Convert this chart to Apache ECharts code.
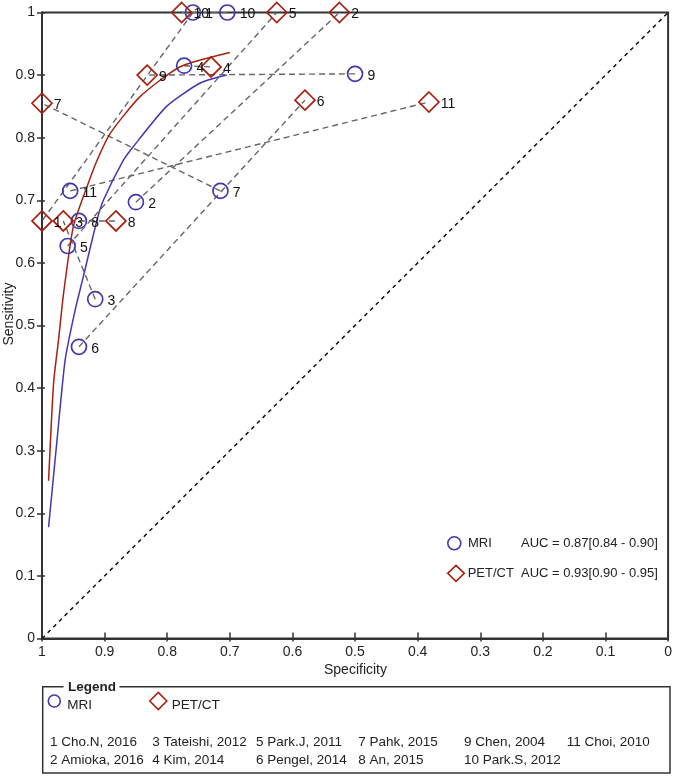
<!DOCTYPE html>
<html><head><meta charset="utf-8">
<script src="https://cdn.jsdelivr.net/npm/echarts@6/dist/echarts.min.js"></script>
<style>html,body{margin:0;padding:0;background:#fff}#c{width:675px;height:776px}</style>
</head><body><div id="c"></div>
<script>
// ---------- data ----------
const studyIds = [1,2,3,4,5,6,7,8,9,10,11];
const studyNames = ['Cho.N, 2016','Amioka, 2016','Tateishi, 2012','Kim, 2014','Park.J, 2011','Pengel, 2014','Pahk, 2015','An, 2015','Chen, 2004','Park.S, 2012','Choi, 2010'];
const mriSpec = [0.759,0.850,0.915,0.773,0.959,0.941,0.715,0.941,0.500,0.704,0.955];
const mriSens = [1.000,0.697,0.542,0.915,0.627,0.466,0.715,0.667,0.902,1.000,0.715];
const petSpec = [1.000,0.525,0.966,0.730,0.625,0.580,1.000,0.882,0.832,0.777,0.382];
const petSens = [0.667,1.000,0.667,0.913,1.000,0.860,0.855,0.667,0.900,1.000,0.857];
const mriCurveSpec = [0.9895,0.976,0.963,0.947,0.934,0.912,0.902,0.870,0.854,0.801,0.748,0.705];
const mriCurveSens = [0.178,0.317,0.445,0.525,0.578,0.669,0.700,0.764,0.786,0.850,0.887,0.900];
const petCurveSpec = [0.9895,0.9815,0.9736,0.9656,0.950,0.928,0.912,0.891,0.843,0.780,0.700];
const petCurveSens = [0.252,0.408,0.477,0.551,0.658,0.722,0.764,0.807,0.866,0.913,0.936];
const chanceSpec = [1,0];
const chanceSens = [0,1];
const seriesNames = ['MRI','PET/CT'];
const aucLabels = ['AUC = 0.87[0.84 - 0.90]','AUC = 0.93[0.90 - 0.95]'];
const xTitle = 'Specificity';
const yTitle = 'Sensitivity';

// ---------- style ----------
const FONT = '"Liberation Sans", Arial, Helvetica, sans-serif';
const BLUE = '#4438ad';
const RED = '#a8200f';
const AX = '#333';

const chart = echarts.init(document.getElementById('c'), null, {renderer:'canvas'});

function zip(a, b, ids) { return a.map((v,i) => ids ? [v, b[i], ids[i]] : [v, b[i]]); }

const baseAxis = {type:'value', min:0, max:1, interval:0.1, splitLine:{show:false}};
const xAxes = [
  Object.assign({}, baseAxis, {position:'bottom', inverse:true,
    axisLine:{show:true, onZero:false, lineStyle:{color:AX, width:2}},
    axisTick:{show:true, inside:true, length:6, lineStyle:{color:AX, width:1.5}},
    axisLabel:{margin:7, fontSize:14, color:'#222', fontFamily:FONT}}),
  Object.assign({}, baseAxis, {position:'bottom', inverse:true,
    axisLine:{show:false, onZero:false}, axisTick:{show:true, inside:false, length:3, lineStyle:{color:AX, width:1.5}},
    axisLabel:{show:false}})
];
const yAxes = [
  Object.assign({}, baseAxis, {position:'left',
    axisLine:{show:true, onZero:false, lineStyle:{color:AX, width:2}},
    axisTick:{show:true, inside:false, length:5, lineStyle:{color:AX, width:1.5}},
    axisLabel:{margin:7, fontSize:14, color:'#222', fontFamily:FONT}}),
  Object.assign({}, baseAxis, {position:'left',
    axisLine:{show:false, onZero:false}, axisTick:{show:true, inside:true, length:3, lineStyle:{color:AX, width:1.5}},
    axisLabel:{show:false}})
];

const series = [];
// connecting dashed lines per study
studyIds.forEach((id, i) => {
  series.push({type:'line', silent:true, symbol:'none', z:2,
    data:[[mriSpec[i], mriSens[i]], [petSpec[i], petSens[i]]],
    lineStyle:{color:'#666', width:1.4, type:[6,4]}});
});
// chance diagonal
series.push({type:'line', silent:true, symbol:'none', z:2, data:zip(chanceSpec, chanceSens),
  lineStyle:{color:'#111', width:1.5, type:[4,4]}});
// SROC curves
series.push({type:'line', name:'MRI curve', symbol:'none', smooth:0.2, z:3, data:zip(mriCurveSpec, mriCurveSens),
  lineStyle:{color:BLUE, width:1.5}});
series.push({type:'line', name:'PET curve', symbol:'none', smooth:0.2, z:3, data:zip(petCurveSpec, petCurveSens),
  lineStyle:{color:RED, width:1.5}});
// study points
const lbl = (dist) => ({show:true, position:'right', distance:dist, offset:[0,2], formatter:p => p.value[2],
  fontSize:14, color:'#111', fontFamily:FONT});
series.push({type:'scatter', name:seriesNames[0], z:5, symbol:'circle', symbolSize:15,
  data:zip(mriSpec, mriSens, studyIds),
  itemStyle:{color:'transparent', borderColor:BLUE, borderWidth:1.7, opacity:1}, label:lbl(4)});
series.push({type:'scatter', name:seriesNames[1], z:5, symbol:'diamond', symbolSize:20,
  data:zip(petSpec, petSens, studyIds),
  itemStyle:{color:'transparent', borderColor:RED, borderWidth:1.7, opacity:1}, label:lbl(1)});

// graphics: titles and legends
const graphics = [];
graphics.push({type:'text', x:355.5, y:670, silent:true,
  style:{text:xTitle, font:'14px ' + FONT, fill:'#222', align:'center', verticalAlign:'middle'}});
graphics.push({type:'text', x:9, y:314, rotation:Math.PI/2, silent:true,
  style:{text:yTitle, font:'14px ' + FONT, fill:'#222', align:'center', verticalAlign:'middle'}});
// in-plot legend
graphics.push({type:'circle', shape:{cx:454.3, cy:543.3, r:6.5}, silent:true, style:{fill:'none', stroke:BLUE, lineWidth:1.6}});
graphics.push({type:'text', x:468, y:543.5, silent:true, style:{text:seriesNames[0], font:'13px ' + FONT, fill:'#222', verticalAlign:'middle'}});
graphics.push({type:'text', x:521, y:543.5, silent:true, style:{text:aucLabels[0], font:'13px ' + FONT, fill:'#222', verticalAlign:'middle'}});
graphics.push({type:'polygon', shape:{points:[[447.7,573.3],[456,565.3],[464.3,573.3],[456,581.3]]}, silent:true, style:{fill:'none', stroke:RED, lineWidth:1.6}});
graphics.push({type:'text', x:467.7, y:573.3, silent:true, style:{text:seriesNames[1], font:'13px ' + FONT, fill:'#222', verticalAlign:'middle'}});
graphics.push({type:'text', x:521, y:573.3, silent:true, style:{text:aucLabels[1], font:'13px ' + FONT, fill:'#222', verticalAlign:'middle'}});
// bottom legend box
graphics.push({type:'rect', shape:{x:42.7, y:686.7, width:627.3, height:86.3}, silent:true, style:{fill:'none', stroke:AX, lineWidth:1.5}});
graphics.push({type:'rect', shape:{x:63.5, y:680, width:56, height:14}, silent:true, style:{fill:'#fff'}});
graphics.push({type:'text', x:68, y:687, silent:true, style:{text:'Legend', font:'bold 13.5px ' + FONT, fill:'#222', verticalAlign:'middle'}});
graphics.push({type:'circle', shape:{cx:54.3, cy:701, r:6}, silent:true, style:{fill:'none', stroke:BLUE, lineWidth:1.6}});
graphics.push({type:'text', x:67.3, y:705, silent:true, style:{text:seriesNames[0], font:'13.5px ' + FONT, fill:'#222', verticalAlign:'middle'}});
graphics.push({type:'polygon', shape:{points:[[149.8,701],[158.3,692.5],[166.8,701],[158.3,709.5]]}, silent:true, style:{fill:'none', stroke:RED, lineWidth:1.6}});
graphics.push({type:'text', x:171.7, y:705, silent:true, style:{text:seriesNames[1], font:'13.5px ' + FONT, fill:'#222', verticalAlign:'middle'}});
const colX = [50, 152.3, 256, 358.3, 464, 566.7];
const rowY = [742.3, 760];
studyIds.forEach((id, i) => {
  const col = Math.floor(i / 2), row = i % 2;
  graphics.push({type:'text', x:colX[col], y:rowY[row], silent:true,
    style:{text:id + ' ' + studyNames[i], font:'13.5px ' + FONT, fill:'#222', verticalAlign:'middle'}});
});

chart.setOption({
  animation:false,
  backgroundColor:'#fff',
  grid:{left:42, right:5.5, top:12.5, bottom:137.5, containLabel:false,
    show:true, borderColor:AX, borderWidth:2, backgroundColor:'transparent'},
  xAxis:xAxes,
  yAxis:yAxes,
  series:series,
  graphic:graphics
});
</script></body></html>
